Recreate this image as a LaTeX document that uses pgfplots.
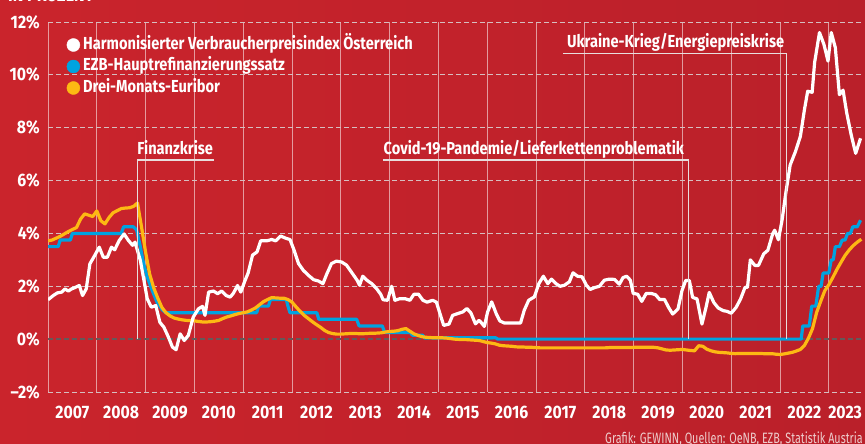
\documentclass[border=0pt]{standalone}
\usepackage{fontspec}
\usepackage{pgfplots}
\pgfplotsset{compat=1.18}
\setmainfont{Fira Sans}[FakeStretch=0.84]
\newfontfamily\tickfont{Fira Sans}[FakeStretch=0.88]
\newfontfamily\footfont{Fira Sans}[FakeStretch=0.72]
\definecolor{bgL}{RGB}{202,36,44}
\definecolor{bgR}{RGB}{186,32,42}
\definecolor{ezb}{RGB}{0,163,224}
\definecolor{eur}{RGB}{253,185,19}
\definecolor{gridc}{RGB}{214,190,192}
\definecolor{zeroc}{RGB}{100,90,90}
\definecolor{annc}{RGB}{232,222,222}
\definecolor{footc}{RGB}{238,205,205}
\newcommand{\lab}{\tickfont\bfseries\fontsize{18}{18}\selectfont}
\newcommand{\ann}{\bfseries\fontsize{17.4}{17.4}\selectfont}
\begin{document}
\begin{tikzpicture}
\shade[left color=bgL, right color=bgR] (0pt,0pt) rectangle (865pt,444pt);
\node[anchor=base west, inner sep=0pt, text=white, font=\bfseries\fontsize{19}{19}\selectfont] at (8pt,442.3pt) {IN PROZENT};
\begin{axis}[
  at={(48pt,52pt)}, anchor=south west,
  scale only axis, width=816pt, height=370pt,
  xmin=0, xmax=200.65, ymin=-2, ymax=12,
  axis line style={draw=none},
  tick style={draw=none},
  major tick length=0pt, minor tick length=0pt,
  xtick={6,18,30,42,54,66,78,90,102,114,126,138,150,162,174,186,196},
  xticklabels={2007,2008,2009,2010,2011,2012,2013,2014,2015,2016,2017,2018,2019,2020,2021,2022,2023},
  minor xtick={0,12,24,36,48,60,72,84,96,108,120,132,144,156,168,180,192},
  xminorgrids=true,
  minor x grid style={white, opacity=0.55, line width=0.9pt},
  ytick={-2,0,2,4,6,8,10,12},
  yticklabels={–2\%,0\%,2\%,4\%,6\%,8\%,10\%,12\%},
  ymajorgrids=true,
  major y grid style={gridc, dash pattern=on 5pt off 3pt, line width=0.9pt},
  extra y ticks={0}, extra y tick labels={},
  extra y tick style={major y grid style={zeroc, dash pattern=on 5pt off 3pt, line width=1.3pt}},
  xticklabel style={font=\lab, text=white, inner sep=0pt, anchor=north, yshift=-13.7pt},
  yticklabel style={font=\lab, text=white, inner sep=0pt, anchor=east, xshift=-8pt},
  legend image code/.code={\fill[#1] (6.5pt,0pt) circle (6.5pt);},
  legend cell align=left,
  legend style={at={(0,1)}, anchor=north west, xshift=18.5pt, yshift=-14.8pt,
    draw=none, fill=none, text=white, font=\ann, inner sep=0pt,
    nodes={inner sep=0pt, text height=12.5pt, text depth=3.5pt},
    row sep=5.5pt, column sep=3pt},
]
\addlegendimage{white}\addlegendentry{Harmonisierter Verbraucherpreisindex Österreich}
\addlegendimage{ezb}\addlegendentry{EZB-Hauptrefinanzierungssatz}
\addlegendimage{eur}\addlegendentry{Drei-Monats-Euribor}

% EZB main refinancing rate
\addplot[forget plot, ezb, line width=3.2pt, line join=round] coordinates {
(0,3.5) (2.5,3.5) (3,3.75) (5.5,3.75) (6,4.0) (18,4.0) (18.6,4.25) (21,4.25)
(21.8,4.13) (22.7,3.5) (23.5,2.86) (24.4,2.35) (25.6,1.85) (26.8,1.4) (28.1,1.11)
(29,1.0) (51.3,1.0) (51.8,1.25) (54.2,1.25) (54.7,1.5) (58.6,1.5) (59.0,1.25)
(59.5,1.0) (66.1,1.0) (66.6,0.75) (75.9,0.75) (76.5,0.5) (82.2,0.5) (82.8,0.25)
(89.1,0.25) (89.6,0.15) (92.1,0.15) (92.6,0.05) (110.1,0.05) (110.6,0)
(185.2,0) (185.6,0.5) (187.2,0.5) (187.8,1.25) (188.8,1.25) (189.5,2.0) (190.1,2.0)
(190.6,2.5) (192.0,2.5) (192.6,3.0) (193.1,3.0) (193.6,3.5) (194.6,3.5) (195.3,3.75)
(196.0,3.75) (196.6,4.0) (197.3,4.0) (197.9,4.25) (199.0,4.25) (199.8,4.5)
};

% 3-month Euribor
\addplot[forget plot, eur, line width=3.2pt, line join=round] coordinates {
(0,3.72) (1,3.75) (2,3.82) (3,3.89) (4,3.98) (5,4.07) (6,4.15) (7,4.22) (8,4.54)
(9,4.74) (10,4.69) (11,4.64) (12,4.85) (13,4.48) (14,4.36) (15,4.60) (16,4.78)
(17,4.86) (18,4.94) (19,4.96) (20,4.97) (21,5.02) (22,5.15) (23,4.24) (24,3.29)
(25,2.46) (26,1.94) (27,1.55) (28,1.2) (29,1.0) (30,0.88) (31,0.8) (32,0.76)
(33,0.73) (34,0.71) (35,0.70) (36,0.69) (37,0.67) (38,0.65) (39,0.65) (40,0.66)
(41,0.68) (42,0.71) (43,0.78) (44,0.84) (45,0.88) (46,0.93) (47,0.97) (48,1.0)
(49,1.03) (50,1.1) (51,1.18) (52,1.3) (53,1.42) (54,1.5) (55,1.57) (56,1.56)
(57,1.55) (58,1.55) (59,1.5) (60,1.4) (61,1.22) (62,1.05) (63,0.9) (64,0.78)
(65,0.66) (66,0.55) (67,0.45) (68,0.33) (69,0.25) (70,0.21) (71,0.19) (72,0.19)
(73,0.20) (74,0.21) (75,0.21) (76,0.21) (77,0.20) (78,0.21) (79,0.22) (80,0.22)
(81,0.23) (82,0.24) (83,0.27) (84,0.29) (85,0.30) (86,0.32) (87,0.37) (88,0.40)
(89,0.30) (90,0.20) (91,0.14) (92,0.09) (93,0.07) (94,0.06) (95,0.05) (96,0.05)
(97,0.05) (98,0.04) (99,0.02) (100,0.00) (101,-0.01) (102,-0.01) (103,-0.02)
(104,-0.03) (105,-0.04) (106,-0.05) (107,-0.09) (108,-0.13) (109,-0.15) (110,-0.18)
(111,-0.23) (112,-0.25) (113,-0.26) (114,-0.27) (115,-0.29) (116,-0.30) (117,-0.30)
(118,-0.31) (119,-0.31) (120,-0.32) (121,-0.33) (122,-0.33) (123,-0.33) (124,-0.33)
(125,-0.33) (126,-0.33) (127,-0.33) (128,-0.33) (129,-0.33) (130,-0.33) (131,-0.33)
(132,-0.33) (133,-0.33) (134,-0.33) (135,-0.33) (136,-0.33) (137,-0.33) (138,-0.32)
(139,-0.32) (140,-0.32) (141,-0.32) (142,-0.32) (143,-0.32) (144,-0.31) (145,-0.31)
(146,-0.31) (147,-0.31) (148,-0.31) (149,-0.31) (150,-0.33) (151,-0.37) (152,-0.41)
(153,-0.42) (154,-0.41) (155,-0.40) (156,-0.39) (157,-0.41) (158,-0.43) (159,-0.44)
(160,-0.25) (161,-0.27) (162,-0.38) (163,-0.44) (164,-0.48) (165,-0.50) (166,-0.51)
(167,-0.52) (168,-0.54) (169,-0.55) (170,-0.54) (171,-0.54) (172,-0.54) (173,-0.54)
(174,-0.54) (175,-0.54) (176,-0.55) (177,-0.55) (178,-0.55) (179,-0.57) (180,-0.58)
(181,-0.56) (182,-0.53) (183,-0.50) (184,-0.45) (185,-0.39) (186,-0.24) (187,0.04)
(188,0.40) (189,1.01) (190,1.43) (191,1.83) (192,2.06) (193,2.34) (194,2.64)
(195,2.91) (196,3.17) (197,3.37) (198,3.54) (199,3.67) (200,3.78)
};

% HICP Austria
\addplot[forget plot, white, line width=3.2pt, line join=round] coordinates {
(0,1.49) (1.3,1.65) (2.3,1.75) (3.4,1.78) (4.2,1.9) (5.0,1.82) (5.8,1.9) (6.6,1.95)
(7.7,2.03) (8.5,1.65) (9.4,1.9) (10.3,2.85) (11.5,3.17) (12.6,3.48) (13.6,3.1)
(14.6,3.1) (15.6,3.48) (16.4,3.38) (17.5,3.73) (18.7,3.98) (19.8,3.73) (20.8,3.55)
(21.4,3.67) (22.7,2.98) (23.6,2.22) (24.4,1.53) (25.4,1.21) (26.5,1.27) (27.5,0.64)
(28.5,0.45) (29.6,0.08) (30.6,-0.30) (31.5,-0.40) (32.5,0.20) (33.5,-0.05)
(34.5,0.14) (35.7,0.83) (37.0,1.15) (38.0,1.24) (38.6,0.9) (39.5,1.78) (40.7,1.82)
(41.7,1.72) (42.7,1.82) (43.8,1.65) (44.8,1.59) (45.6,1.74) (46.6,2.03) (47.4,1.78)
(48.4,2.2) (49.2,2.5) (50.3,3.18) (51.4,3.3) (52.3,3.72) (53.8,3.72) (55.0,3.77)
(56.0,3.72) (57.2,3.9) (58.6,3.81) (59.5,3.77) (60.5,3.37) (61.6,2.86) (62.8,2.6)
(64.0,2.42) (65.3,2.25) (66.5,2.2) (67.6,2.1) (68.6,2.48) (69.7,2.86) (70.9,2.95)
(72.2,2.92) (73.4,2.8) (74.6,2.54) (76.0,2.23) (76.6,2.04) (77.4,2.38) (78.4,2.23)
(79.6,2.1) (80.8,1.91) (81.8,1.7) (82.4,1.49) (83.5,1.47) (84.5,2.0) (85.3,1.47)
(86.5,1.53) (87.8,1.53) (89.0,1.47) (90.0,1.7) (91.1,1.7) (92.2,1.47) (93.2,1.4)
(94.6,1.47) (95.5,1.4) (96.4,0.96) (97.3,0.52) (98.6,0.57) (99.5,0.9) (100.8,0.97)
(102.0,1.03) (103.0,1.16) (104.0,0.99) (105.1,0.58) (106.0,0.71) (106.4,0.65)
(107.3,0.48) (108.1,1.03) (109.1,1.41) (110.2,0.97) (111.1,0.69) (112.2,0.61)
(116.2,0.61) (117.1,1.09) (118.2,1.47) (119.6,1.6) (120.7,2.1) (121.8,2.38)
(122.9,2.1) (123.8,2.27) (124.9,2.1) (125.9,2.0) (127.0,2.04) (128.2,2.17)
(129.1,2.51) (130.2,2.38) (131.3,2.36) (132.4,2.04) (133.3,1.88) (134.4,1.95)
(135.6,2.0) (136.8,2.23) (138.0,2.27) (139.3,2.26) (140.5,2.08) (141.4,2.33)
(142.3,2.38) (143.2,2.23) (143.9,1.73) (145.0,1.7) (146.0,1.43) (147.1,1.73)
(148.3,1.73) (149.4,1.68) (150.4,1.5) (151.6,1.5) (152.6,1.2) (153.6,0.95)
(154.9,1.14) (155.9,1.84) (156.8,2.22) (157.7,2.22) (158.5,1.58) (159.6,1.52)
(160.8,0.57) (161.8,1.2) (162.6,1.77) (163.7,1.39) (164.8,1.18) (166.0,1.08)
(167.0,1.05) (168.0,0.98) (169.2,1.2) (170.3,1.52) (171.4,1.96) (172.0,1.96)
(172.7,3.0) (173.8,2.79) (174.7,2.79) (176.0,3.23) (177.0,3.36) (178.2,3.99)
(178.7,4.12) (179.6,3.76) (180.5,4.5) (181.4,5.51) (182.5,6.59) (183.8,7.1)
(185.0,7.67) (186.0,8.68) (186.8,9.38) (187.9,9.34) (188.5,10.46) (189.7,11.6)
(190.8,11.15) (191.8,10.52) (192.6,11.6) (193.6,11.03) (194.6,9.25) (195.5,9.42)
(196.4,8.56) (197.5,7.73) (198.6,7.03) (199.8,7.6)
};

% annotations
\draw[annc, line width=1.1pt] (axis cs:21.9,0) -- (axis cs:21.9,6.78) -- (axis cs:40.8,6.78);
\node[anchor=base west, inner sep=0pt, text=white, font=\ann] at (axis cs:21.95,6.99) {Finanzkrise};
\draw[annc, line width=1.1pt] (axis cs:82.4,6.78) -- (axis cs:157.6,6.78) -- (axis cs:157.6,0);
\node[anchor=base west, inner sep=0pt, text=white, font=\ann] at (axis cs:82.5,6.99) {Covid-19-Pandemie/Lieferkettenproblematik};
\draw[annc, line width=1.1pt] (axis cs:126.6,10.82) -- (axis cs:181.7,10.82) -- (axis cs:181.7,0);
\node[anchor=base west, inner sep=0pt, text=white, font=\ann] at (axis cs:127.6,11.03) {Ukraine-Krieg/Energiepreiskrise};
\end{axis}
\node[anchor=base east, inner sep=0pt, text=footc, font=\footfont\fontsize{15}{15}\selectfont] at (863pt,0.8pt) {Grafik: GEWINN, Quellen: OeNB, EZB, Statistik Austria};
\pgfresetboundingbox
\useasboundingbox (0pt,0pt) rectangle (865pt,444pt);
\end{tikzpicture}
\end{document}
